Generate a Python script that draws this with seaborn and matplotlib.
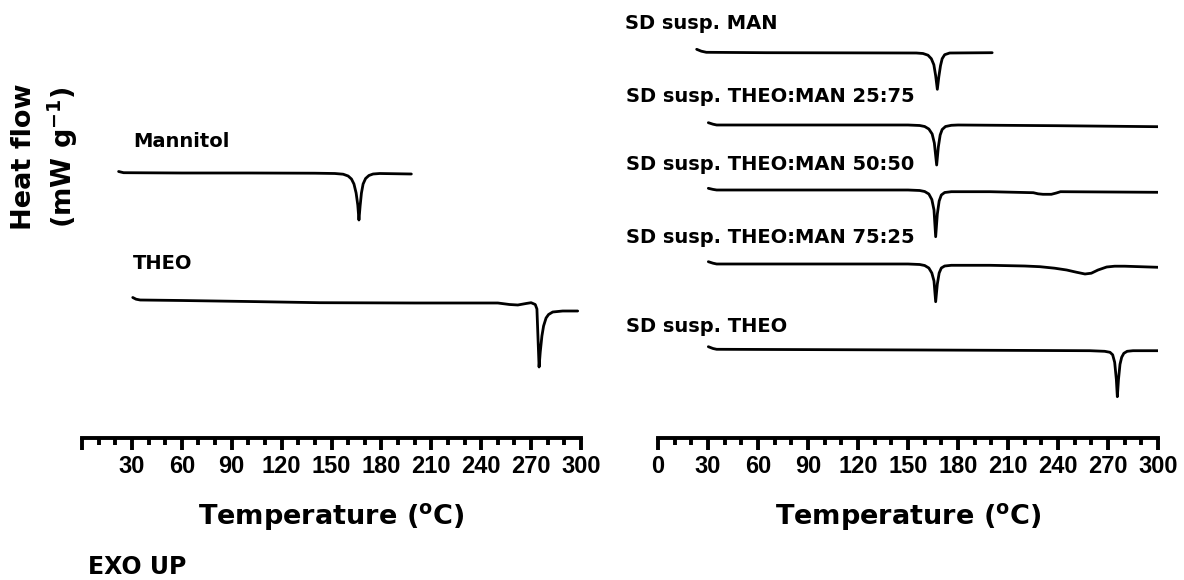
import numpy as np
import pandas as pd
import matplotlib
matplotlib.use("Agg")
import matplotlib.pyplot as plt
from matplotlib.ticker import MultipleLocator, FixedLocator, FixedFormatter
import seaborn as sns

# ---- DSC thermograms: temperature (°C) and heat flow relative to each baseline (mW/g) ----
man_T = [22, 25, 60, 100, 140, 152, 157, 160, 162, 163.5, 164.8, 165.8, 166.5, 167.2, 168,
         169, 170.5, 172.5, 175, 179, 198]
man_HF = [0.15, 0.03, 0.0, 0.0, -0.02, -0.05, -0.12, -0.3, -0.6, -1.1, -2.0, -3.2, -4.7, -3.3,
          -2.0, -1.1, -0.55, -0.25, -0.1, -0.05, -0.1]

theo_T = [30.5, 32.5, 35, 60, 100, 143, 200, 250, 257, 262, 267, 270, 272.5, 273.5, 274.8,
          275.5, 276.5, 277.5, 279, 280.5, 283, 289, 298]
theo_HF = [0.25, 0.08, 0.0, -0.05, -0.15, -0.27, -0.3, -0.3, -0.45, -0.5, -0.35, -0.27, -0.45,
           -0.9, -6.7, -5.2, -3.6, -2.6, -1.8, -1.45, -1.2, -1.1, -1.1]

sd_man_T = [23.2, 26, 29, 65, 155, 159, 162, 164, 165.5, 166.6, 167.6, 168.5, 169.5, 170.5,
            172, 175, 200.5]
sd_man_HF = [0.34, 0.15, 0.04, 0.0, -0.03, -0.08, -0.25, -0.6, -1.2, -2.3, -3.66, -2.4, -1.3,
             -0.6, -0.2, -0.03, 0.0]

sd_2575_T = [30.2, 33, 35.2, 150, 157, 160, 162.5, 164.5, 165.8, 167.2, 168.2, 169.3, 170.5,
             172.5, 176, 180, 239.2, 300.2]
sd_2575_HF = [0.23, 0.08, 0.0, 0.0, -0.05, -0.15, -0.4, -0.9, -1.8, -4.0, -2.2, -1.0, -0.45,
              -0.15, -0.03, 0.0, -0.07, -0.17]

sd_5050_T = [30.2, 33, 35.2, 150, 157, 160, 162.5, 164.3, 165.6, 166.6, 167.6, 168.7, 170, 172,
             176, 199.2, 225.2, 228, 231, 236, 239, 241.5, 300.2]
sd_5050_HF = [0.17, 0.06, 0.0, 0.0, -0.05, -0.15, -0.4, -0.95, -2.0, -4.67, -2.4, -1.1, -0.5,
              -0.25, -0.17, -0.17, -0.27, -0.38, -0.43, -0.43, -0.3, -0.17, -0.23]

sd_7525_T = [30.2, 33, 35.2, 150, 157, 160, 162.5, 164.3, 165.6, 166.6, 167.6, 168.7, 170, 172,
             176, 199.2, 220, 229.2, 238, 245.2, 251, 256.2, 260, 264, 269.2, 274, 280, 300.2]
sd_7525_HF = [0.23, 0.08, 0.0, 0.0, -0.05, -0.15, -0.4, -0.9, -1.7, -3.77, -2.0, -0.9, -0.4,
              -0.2, -0.13, -0.13, -0.2, -0.27, -0.42, -0.6, -0.82, -1.0, -0.92, -0.6, -0.3,
              -0.22, -0.22, -0.33]

sd_theo_T = [30.2, 33, 35.2, 159.2, 259.2, 268, 271.2, 272.8, 274, 275, 275.6, 276.3, 277.2,
             278.2, 279.5, 281.5, 285, 300.2]
sd_theo_HF = [0.26, 0.08, 0.0, -0.07, -0.14, -0.2, -0.3, -0.55, -1.3, -3.0, -4.74, -3.0, -1.5,
              -0.8, -0.4, -0.2, -0.14, -0.14]

left_names = ["Mannitol", "THEO"]
right_names = ["SD susp. MAN", "SD susp. THEO:MAN 25:75", "SD susp. THEO:MAN 50:50",
               "SD susp. THEO:MAN 75:25", "SD susp. THEO"]

x_major = list(range(0, 301, 30))
left_tick_labels = [""] + [str(v) for v in x_major[1:]]
right_tick_labels = [str(v) for v in x_major]

# vertical stacking of the traces and placement of their captions
left_offsets = [26.5, 13.8]
right_offsets = [38.53, 31.3, 24.8, 17.4, 8.87]
left_label_pos = [(30.6, 29.1), (30.6, 16.9)]
right_label_pos = [(-20.0, 40.9), (-19.5, 33.6), (-19.5, 26.8), (-19.5, 19.5), (-19.5, 10.6)]

left_series = [(man_T, man_HF), (theo_T, theo_HF)]
right_series = [(sd_man_T, sd_man_HF), (sd_2575_T, sd_2575_HF), (sd_5050_T, sd_5050_HF),
                (sd_7525_T, sd_7525_HF), (sd_theo_T, sd_theo_HF)]

sns.set_theme(style="white")
plt.rcParams["font.family"] = ["DejaVu Sans"]
plt.rcParams["mathtext.fontset"] = "dejavusans"

W, H = 1184, 580
fig = plt.figure(figsize=(W / 100, H / 100), dpi=100)
ax_l = fig.add_axes([82 / W, 142 / H, 499 / W, 438 / H])
ax_r = fig.add_axes([658 / W, 142 / H, 500 / W, 438 / H])

label_font = dict(fontsize=14, fontweight="bold", color="black", family="DejaVu Sans")


def draw_panel(ax, series, offsets, names, label_pos, tick_labels):
    for (T, hf), off, name, (lx, ly) in zip(series, offsets, names, label_pos):
        df = pd.DataFrame({"Temperature": T, "HeatFlow": np.asarray(hf) + off})
        sns.lineplot(data=df, x="Temperature", y="HeatFlow", ax=ax, color="black",
                     linewidth=2.0, sort=False, estimator=None, solid_joinstyle="round",
                     solid_capstyle="round")
        ax.text(lx, ly, name, ha="left", va="baseline", clip_on=False, **label_font)

    ax.set_xlim(0, 300)
    ax.set_ylim(0, 43.8)
    ax.set_yticks([])
    ax.set_ylabel("")
    for side in ["top", "right", "left"]:
        ax.spines[side].set_visible(False)
    ax.spines["bottom"].set_linewidth(2.8)
    ax.spines["bottom"].set_color("black")
    ax.xaxis.set_major_locator(FixedLocator(x_major))
    ax.xaxis.set_major_formatter(FixedFormatter(tick_labels))
    ax.xaxis.set_minor_locator(MultipleLocator(10))
    ax.tick_params(axis="x", which="major", direction="out", length=8.5, width=2.8,
                   color="black", pad=4, bottom=True)
    ax.tick_params(axis="x", which="minor", direction="out", length=5, width=2.8,
                   color="black", bottom=True)
    for lab in ax.get_xticklabels():
        lab.set_fontfamily("Liberation Sans")
        lab.set_fontweight("bold")
        lab.set_fontsize(17)
        lab.set_color("black")
    ax.set_xlabel(r"Temperature ($^{\mathbf{o}}$C)", fontsize=19.5, fontweight="bold",
                  color="black", labelpad=16)
    ax.patch.set_alpha(0)


draw_panel(ax_l, left_series, left_offsets, left_names, left_label_pos, left_tick_labels)
draw_panel(ax_r, right_series, right_offsets, right_names, right_label_pos, right_tick_labels)

fig.text(24 / W, 1 - 157 / H, "Heat flow", rotation=90, ha="center", va="center",
         fontsize=19.5, fontweight="bold", color="black")
fig.text(63 / W, 1 - 157 / H, r"(mW g$^{\mathbf{-1}}$)", rotation=90, ha="center",
         va="center", fontsize=19.5, fontweight="bold", color="black")
fig.text(88 / W, 1 - 574 / H, "EXO UP", ha="left", va="baseline", fontsize=17,
         fontweight="bold", color="black")

fig.savefig("out.png", dpi=100, facecolor="white")
